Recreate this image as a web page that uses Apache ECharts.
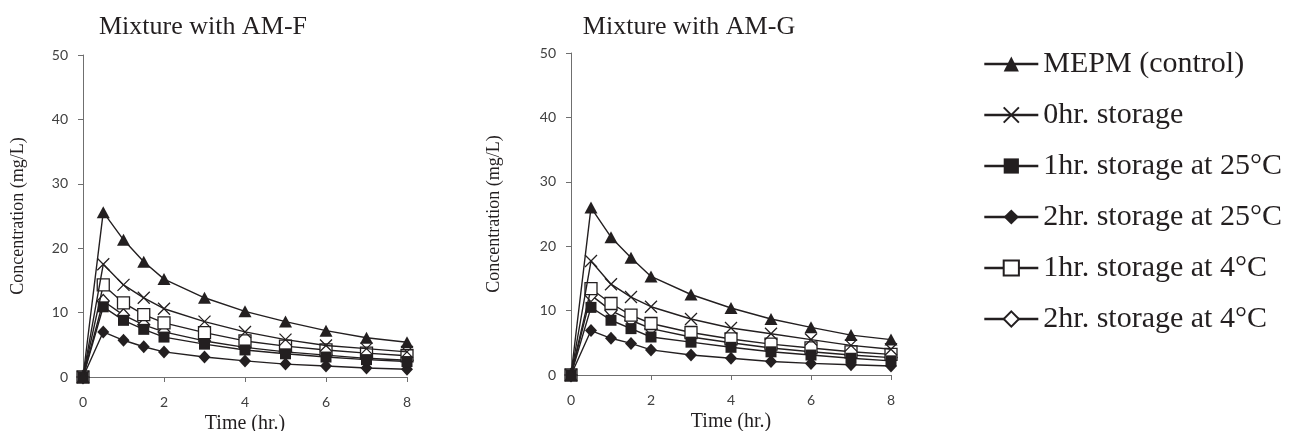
<!DOCTYPE html>
<html>
<head>
<meta charset="utf-8">
<title>Concentration vs time</title>
<script src="https://cdn.jsdelivr.net/npm/echarts@6/dist/echarts.min.js"></script>
<style>
  html, body { margin: 0; padding: 0; background: #fff; }
  #chart { width: 1292px; height: 431px; }
</style>
</head>
<body>
<div id="chart"></div>
<script>
// Sampling times (hr.)
const timePoints = [0, 0.5, 1, 1.5, 2, 3, 4, 5, 6, 7, 8];

// Series labels
const seriesNames = [
  'MEPM (control)',
  '0hr. storage',
  '1hr. storage at 25°C',
  '2hr. storage at 25°C',
  '1hr. storage at 4°C',
  '2hr. storage at 4°C'
];

// Panel titles
const panelTitles = ['Mixture with AM-F', 'Mixture with AM-G'];

// Mixture with AM-F, concentration (mg/L)
const amfControl = [0, 25.6, 21.3, 17.9, 15.2, 12.3, 10.2, 8.6, 7.2, 6.1, 5.4];
const amf0h      = [0, 17.5, 14.3, 12.3, 10.6, 8.6, 7.0, 5.8, 4.9, 4.4, 3.9];
const amf1h25    = [0, 10.9, 8.8, 7.4, 6.2, 5.1, 4.2, 3.6, 3.1, 2.7, 2.4];
const amf2h25    = [0, 7.0, 5.7, 4.7, 3.9, 3.1, 2.5, 2.0, 1.7, 1.4, 1.2];
const amf1h4     = [0, 14.3, 11.5, 9.7, 8.4, 6.9, 5.6, 4.8, 4.2, 3.7, 3.3];
const amf2h4     = [0, 11.8, 9.6, 8.1, 7.0, 5.6, 4.6, 3.9, 3.4, 2.9, 2.6];

// Mixture with AM-G, concentration (mg/L)
const amgControl = [0, 26.0, 21.4, 18.2, 15.3, 12.5, 10.4, 8.7, 7.4, 6.2, 5.5];
const amg0h      = [0, 17.7, 14.1, 12.1, 10.6, 8.7, 7.3, 6.4, 5.5, 4.6, 4.0];
const amg1h25    = [0, 10.5, 8.5, 7.2, 5.9, 5.1, 4.3, 3.6, 3.1, 2.6, 2.2];
const amg2h25    = [0, 6.9, 5.7, 4.9, 3.9, 3.1, 2.6, 2.1, 1.8, 1.6, 1.4];
const amg1h4     = [0, 13.4, 11.1, 9.3, 8.0, 6.6, 5.6, 4.8, 4.2, 3.6, 3.2];
const amg2h4     = [0, 12.4, 10.0, 8.5, 7.2, 5.9, 5.0, 4.2, 3.6, 3.1, 2.7];

// Axis ticks
const xTicks = { min: 0, max: 8, interval: 2 };
const yTicks = { min: 0, max: 50, interval: 10 };

const ink = '#231f20';
const serif = 'Liberation Serif';

const panelData = [
  [amfControl, amf0h, amf1h25, amf2h25, amf1h4, amf2h4],
  [amgControl, amg0h, amg1h25, amg2h25, amg1h4, amg2h4]
];

// Marker style per series
const markerStyles = [
  { symbol: 'triangle', symbolSize: [13, 12], itemStyle: { color: ink } },
  { symbol: 'path://M0,0L10,10M10,0L0,10', symbolSize: 12,
    itemStyle: { color: 'none', borderColor: ink, borderWidth: 1.3 } },
  { symbol: 'rect', symbolSize: 11, itemStyle: { color: ink } },
  { symbol: 'diamond', symbolSize: [12, 13], itemStyle: { color: ink } },
  { symbol: 'rect', symbolSize: 12,
    itemStyle: { color: '#fff', borderColor: ink, borderWidth: 1.3 } },
  { symbol: 'diamond', symbolSize: [12, 13],
    itemStyle: { color: '#fff', borderColor: ink, borderWidth: 1.3 } }
];

const gridBoxes = [
  { left: 83, top: 55, width: 324, height: 322 },
  { left: 571, top: 53, width: 320, height: 322 }
];
const yNameGaps = [56, 68];

const axisLine = { show: true, lineStyle: { color: '#6f6f6f', width: 1 } };
const tickLabel = { color: '#404040', fontFamily: 'Lato', fontSize: 14 };

const xAxes = gridBoxes.map((g, i) => ({
  type: 'value', gridIndex: i,
  min: xTicks.min, max: xTicks.max, interval: xTicks.interval,
  name: 'Time (hr.)', nameLocation: 'middle', nameGap: 32,
  nameTextStyle: { fontFamily: serif, fontSize: 20, color: ink },
  axisLine: axisLine,
  axisTick: { show: true, length: 5, lineStyle: { color: '#6f6f6f' } },
  axisLabel: Object.assign({ margin: 18 }, tickLabel),
  splitLine: { show: false }
}));

const yAxes = gridBoxes.map((g, i) => ({
  type: 'value', gridIndex: i,
  min: yTicks.min, max: yTicks.max, interval: yTicks.interval,
  name: 'Concentration (mg/L)', nameLocation: 'middle', nameGap: yNameGaps[i],
  nameRotate: 90,
  nameTextStyle: { fontFamily: serif, fontSize: 18, color: ink },
  axisLine: axisLine,
  axisTick: { show: true, length: 5, lineStyle: { color: '#6f6f6f' } },
  axisLabel: Object.assign({ margin: 15 }, tickLabel),
  splitLine: { show: false }
}));

const series = [];
panelData.forEach((values, p) => {
  // draw lower series first so the control curve sits on top
  for (let s = values.length - 1; s >= 0; s--) {
    const m = markerStyles[s];
    series.push({
      type: 'line',
      name: seriesNames[s],
      xAxisIndex: p, yAxisIndex: p,
      data: timePoints.map((t, k) => [t, values[s][k]]),
      symbol: m.symbol,
      symbolSize: m.symbolSize,
      showSymbol: true,
      itemStyle: m.itemStyle,
      lineStyle: { color: ink, width: 1.4 },
      emphasis: { disabled: true },
      z: 10 - s
    });
  }
});

const chart = echarts.init(document.getElementById('chart'), null, { renderer: 'canvas' });
chart.setOption({
  animation: false,
  backgroundColor: '#fff',
  title: panelTitles.map((t, i) => ({
    text: t,
    left: i === 0 ? 198 : 684,
    top: 9,
    textAlign: 'center',
    textStyle: { fontFamily: serif, fontSize: 26, fontWeight: 'normal', color: ink }
  })),
  legend: {
    orient: 'vertical',
    left: 978, top: 44,
    itemWidth: 54, itemHeight: 19,
    itemGap: 21,
    data: seriesNames,
    lineStyle: { width: 2.6, color: ink },
    textStyle: { fontFamily: serif, fontSize: 30, color: ink, lineHeight: 30 },
    selectedMode: false
  },
  grid: gridBoxes.map(g => Object.assign({ containLabel: false, outerBoundsMode: 'none' }, g)),
  xAxis: xAxes,
  yAxis: yAxes,
  series: series
});
</script>
</body>
</html>
